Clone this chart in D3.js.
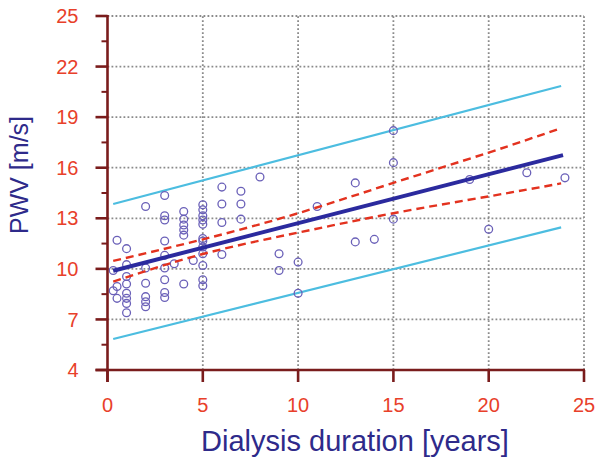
<!DOCTYPE html>
<html>
<head>
<meta charset="utf-8">
<script src="https://cdn.jsdelivr.net/npm/d3@7"></script>
<style>
  body { margin: 0; background: #fff; }
  svg { display: block; font-family: "Liberation Sans", Arial, sans-serif; }
</style>
</head>
<body>
<div id="chart"></div>
<script>
// dialysis duration (years) vs PWV (m/s)
var duration = [0.3, 0.5, 0.3, 0.5, 0.5,
    1, 1, 1, 1, 1, 1, 1, 1,
    2, 2, 2, 2, 2, 2,
    3, 3, 3, 3, 3, 3, 3, 3, 3,
    3.5,
    4, 4, 4, 4, 4, 4,
    4.5,
    5, 5, 5, 5, 5, 5, 5, 5, 5, 5, 5, 5,
    6, 6, 6, 6,
    7, 7, 7,
    8, 9, 9, 10, 10, 11, 13, 13, 14,
    15, 15, 15, 19, 20, 22, 24];
var pwv = [9.9, 11.7, 8.7, 8.95, 8.25,
    11.2, 10.25, 9.55, 9.1, 8.55, 8.25, 7.95, 7.4,
    13.7, 10.05, 9.15, 8.35, 8.05, 7.75,
    14.35, 13.15, 12.9, 11.65, 10.8, 10.05, 9.35, 8.6, 8.3,
    10.3,
    13.4, 12.95, 12.6, 12.3, 12.0, 9.1,
    10.5,
    13.8, 13.5, 13.15, 12.9, 12.65, 11.8, 11.65, 11.3, 10.9, 10.2, 9.35, 9.0,
    14.85, 13.85, 12.75, 10.85,
    14.6, 13.85, 12.95,
    15.45, 10.9, 9.9, 10.4, 8.55, 13.7, 15.1, 11.6, 11.75,
    18.2, 16.3, 12.95, 15.3, 12.35, 15.7, 15.4];

// regression line ends
var fitX = [0.3, 23.9];
var fitY = [9.89, 16.75];

// 95% confidence band (red dashed)
var bandX = [0.3, 5, 10, 15, 20, 23.8];
var bandUpper = [10.47, 11.75, 13.3, 15.1, 16.9, 18.35];
var bandLower = [9.24, 10.88, 12.15, 13.3, 14.3, 15.07];

// prediction limits (cyan)
var predX = [0.3, 23.8];
var predUpper = [13.85, 20.85];
var predLower = [5.84, 12.46];

var xTicks = [0, 5, 10, 15, 20, 25];
var yTicks = [4, 7, 10, 13, 16, 19, 22, 25];
var yMinor = [5.5, 8.5, 11.5, 14.5, 17.5, 20.5, 23.5];

var width = 595, height = 463;
var axisColor = "#7a1c1c", tickText = "#e8402a", titleColor = "#2e2a8a";

var svg = d3.select("#chart").append("svg")
    .attr("width", width)
    .attr("height", height);

var x = d3.scaleLinear().domain([0, 25]).range([107.5, 584]);
var y = d3.scaleLinear().domain([4, 25]).range([370, 16]);

// dotted grid
var grid = svg.append("g")
    .attr("stroke", "#8a8a8a")
    .attr("stroke-width", 1.8)
    .attr("stroke-dasharray", "1.8,2.2");
grid.selectAll(".gx").data(xTicks.slice(1)).enter().append("line")
    .attr("x1", function (d) { return x(d); })
    .attr("x2", function (d) { return x(d); })
    .attr("y1", y(4)).attr("y2", y(25));
grid.selectAll(".gy").data(yTicks.slice(1)).enter().append("line")
    .attr("x1", x(0)).attr("x2", x(25))
    .attr("y1", function (d) { return y(d); })
    .attr("y2", function (d) { return y(d); });

// prediction limits
var line = d3.line()
    .x(function (d) { return x(d[0]); })
    .y(function (d) { return y(d[1]); });

[predUpper, predLower].forEach(function (vals) {
    svg.append("path")
        .attr("d", line(d3.zip(predX, vals)))
        .attr("fill", "none")
        .attr("stroke", "#4cbde0")
        .attr("stroke-width", 2.2);
});

// points
svg.append("g").selectAll("circle")
    .data(d3.zip(duration, pwv))
    .enter().append("circle")
    .attr("cx", function (d) { return x(d[0]); })
    .attr("cy", function (d) { return y(d[1]); })
    .attr("r", 3.9)
    .attr("fill", "none")
    .attr("stroke", "#6a60b8")
    .attr("stroke-width", 1.3);

// confidence band
var curve = d3.line()
    .curve(d3.curveNatural)
    .x(function (d) { return x(d[0]); })
    .y(function (d) { return y(d[1]); });

[bandUpper, bandLower].forEach(function (vals) {
    svg.append("path")
        .attr("d", curve(d3.zip(bandX, vals)))
        .attr("fill", "none")
        .attr("stroke", "#e3321f")
        .attr("stroke-width", 2.4)
        .attr("stroke-dasharray", "8,5");
});

// regression line
svg.append("path")
    .attr("d", line(d3.zip(fitX, fitY)))
    .attr("stroke", "#2b2a9e")
    .attr("stroke-width", 4);

// axes
var xAxis = svg.append("g").attr("transform", "translate(0," + y(4) + ")");
xAxis.append("line")
    .attr("x1", x(0) - 12).attr("x2", x(25) + 1)
    .attr("stroke", axisColor).attr("stroke-width", 2.6);
xAxis.selectAll(".xt").data(xTicks).enter().append("line")
    .attr("x1", function (d) { return x(d); })
    .attr("x2", function (d) { return x(d); })
    .attr("y1", 0).attr("y2", 12)
    .attr("stroke", axisColor).attr("stroke-width", 2.6);
xAxis.selectAll("text").data(xTicks).enter().append("text")
    .attr("x", function (d) { return x(d); })
    .attr("y", 42)
    .attr("text-anchor", "middle")
    .attr("fill", tickText)
    .attr("font-size", 20)
    .text(function (d) { return d; });

var yAxis = svg.append("g").attr("transform", "translate(" + x(0) + ",0)");
yAxis.append("line")
    .attr("y1", y(25) - 1).attr("y2", y(4) + 12)
    .attr("stroke", axisColor).attr("stroke-width", 2.6);
yAxis.selectAll(".yt").data(yTicks).enter().append("line")
    .attr("x1", -12).attr("x2", 0)
    .attr("y1", function (d) { return y(d); })
    .attr("y2", function (d) { return y(d); })
    .attr("stroke", axisColor).attr("stroke-width", 2.6);
yAxis.selectAll(".ym").data(yMinor).enter().append("line")
    .attr("x1", -6).attr("x2", 0)
    .attr("y1", function (d) { return y(d); })
    .attr("y2", function (d) { return y(d); })
    .attr("stroke", axisColor).attr("stroke-width", 2);
yAxis.selectAll("text").data(yTicks).enter().append("text")
    .attr("x", -29)
    .attr("y", function (d) { return y(d); })
    .attr("dy", "0.36em")
    .attr("text-anchor", "end")
    .attr("fill", tickText)
    .attr("font-size", 20)
    .text(function (d) { return d; });

// axis titles
svg.append("text")
    .attr("x", 355).attr("y", 451)
    .attr("text-anchor", "middle")
    .attr("fill", titleColor)
    .attr("font-size", 29)
    .text("Dialysis duration [years]");

svg.append("text")
    .attr("transform", "translate(28,175) rotate(-90)")
    .attr("text-anchor", "middle")
    .attr("fill", titleColor)
    .attr("font-size", 25)
    .text("PWV [m/s]");
</script>
</body>
</html>
